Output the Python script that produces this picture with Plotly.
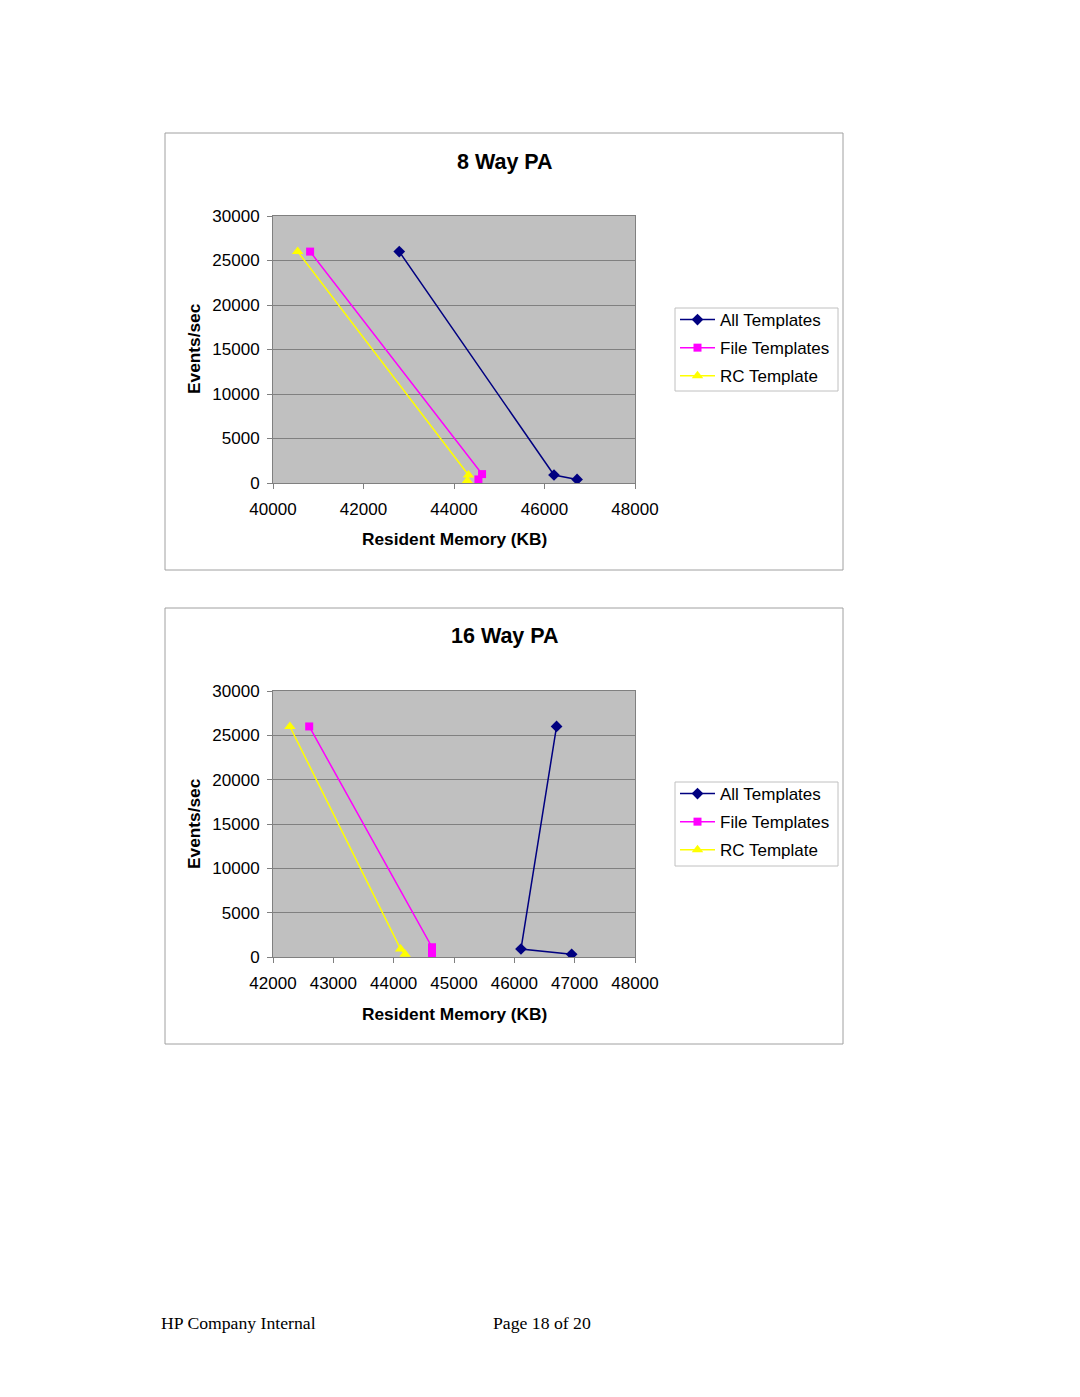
import plotly.graph_objects as go

W, H = 1080, 1397

series_names = ["All Templates", "File Templates", "RC Template"]

# Chart 1: 8 Way PA
pa8_all_x = [42790, 46210, 46720]
pa8_all_y = [26000, 900, 400]
pa8_file_x = [40820, 44620, 44540]
pa8_file_y = [26000, 1000, 400]
pa8_rc_x = [40545, 44320, 44295]
pa8_rc_y = [26000, 900, 250]

# Chart 2: 16 Way PA
pa16_all_x = [46700, 46110, 46950]
pa16_all_y = [26000, 900, 300]
pa16_file_x = [42600, 44635, 44635]
pa16_file_y = [26000, 1100, 400]
pa16_rc_x = [42280, 44115, 44190]
pa16_rc_y = [26000, 900, 300]

x1_ticks = [40000, 42000, 44000, 46000, 48000]
x2_ticks = [42000, 43000, 44000, 45000, 46000, 47000, 48000]
y_ticks = [0, 5000, 10000, 15000, 20000, 25000, 30000]

colors = ["#000080", "#ff00ff", "#ffff00"]
symbols = ["diamond", "square", "triangle-up"]
msizes = [9, 8, 10]

def px_x(p):
    return p / W

def px_y(p):
    return 1 - p / H

fig = go.Figure()

chart1 = [(pa8_all_x, pa8_all_y), (pa8_file_x, pa8_file_y), (pa8_rc_x, pa8_rc_y)]
chart2 = [(pa16_all_x, pa16_all_y), (pa16_file_x, pa16_file_y), (pa16_rc_x, pa16_rc_y)]

for ci, (chart, xa, ya, lg) in enumerate([(chart1, "x", "y", "legend"), (chart2, "x2", "y2", "legend2")]):
    for i, (xs, ys) in enumerate(chart):
        fig.add_trace(go.Scatter(
            x=xs, y=ys, mode="lines+markers", name=series_names[i],
            xaxis=xa, yaxis=ya, legend=lg, legendgroup=f"c{ci}s{i}",
            line=dict(color=colors[i], width=1.5),
            marker=dict(symbol=symbols[i], size=msizes[i], color=colors[i]),
        ))

font = "Liberation Sans, Arial, sans-serif"
axis_common = dict(
    showline=True, mirror=True, linecolor="#808080", linewidth=1,
    ticks="outside", ticklen=5, tickcolor="#808080",
    tickfont=dict(family=font, size=17, color="black"),
    zeroline=False, automargin=False,
)

def xaxis(anchor, rng, ticks):
    return dict(domain=[px_x(273), px_x(635)], anchor=anchor, range=rng,
                tickvals=ticks, ticktext=[str(t) for t in ticks], showgrid=False,
                ticklabelstandoff=6, **axis_common)

def yaxis(anchor, top, bottom):
    return dict(domain=[px_y(bottom), px_y(top)], anchor=anchor, range=[0, 30000],
                tickvals=y_ticks, ticktext=[str(t) for t in y_ticks],
                showgrid=True, gridcolor="#808080", gridwidth=1,
                ticklabelstandoff=4, **axis_common)

def legend(top):
    return dict(x=px_x(675), y=px_y(top - 6), xanchor="left", yanchor="top",
                bgcolor="rgba(0,0,0,0)", borderwidth=0,
                font=dict(family=font, size=17, color="black"),
                tracegroupgap=3, itemwidth=35)

fig.update_layout(
    width=W, height=H, margin=dict(l=0, r=0, t=0, b=0, autoexpand=False),
    paper_bgcolor="white", plot_bgcolor="#c0c0c0",
    xaxis=xaxis("y", [40000, 48000], x1_ticks),
    yaxis=yaxis("x", 216, 483),
    xaxis2=xaxis("y2", [42000, 48000], x2_ticks),
    yaxis2=yaxis("x2", 691, 957),
    legend=legend(308),
    legend2=legend(782),
    showlegend=True,
)

# chart frames and legend boxes
for (x0, y0, x1, y1, c) in [(165, 133, 843, 570, "#a0a0a0"), (165, 608, 843, 1044, "#a0a0a0"),
                            (675, 308, 838, 391, "#c0c0c0"), (675, 782, 838, 866, "#c0c0c0")]:
    fig.add_shape(type="rect", xref="paper", yref="paper",
                  x0=px_x(x0), x1=px_x(x1), y0=px_y(y0), y1=px_y(y1),
                  line=dict(color=c, width=1), layer="below")

def ann(text, x, y, size, bold=False, family=font, angle=0, xanchor="center"):
    fig.add_annotation(text=f"<b>{text}</b>" if bold else text,
                       x=px_x(x), y=px_y(y), xref="paper", yref="paper",
                       showarrow=False, xanchor=xanchor, yanchor="middle",
                       textangle=angle,
                       font=dict(family=family, size=size, color="black"))

ann("8 Way PA", 505, 162, 21.5, bold=True)
ann("Resident Memory (KB)", 454, 539, 17.3, bold=True)
ann("Events/sec", 194, 349, 17.3, bold=True, angle=-90)

ann("16 Way PA", 505, 636, 21.5, bold=True)
ann("Resident Memory (KB)", 454, 1014, 17.3, bold=True)
ann("Events/sec", 194, 824, 17.3, bold=True, angle=-90)

serif = "Liberation Serif, Times New Roman, serif"
ann("HP Company Internal", 159, 1323, 17.7, family=serif, xanchor="left")
ann("Page 18 of 20", 491, 1323, 17.7, family=serif, xanchor="left")

fig.write_html("out.html")
